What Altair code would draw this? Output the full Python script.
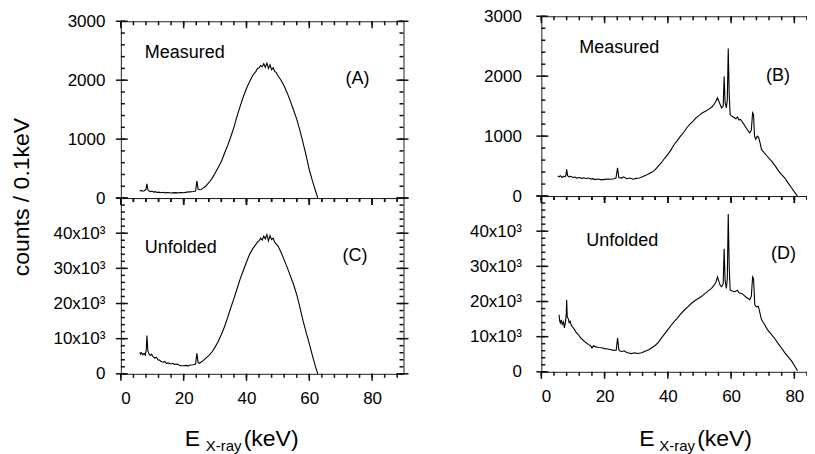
import altair as alt
import pandas as pd

FONT = "Liberation Sans"

# ---------------- data ----------------
# (A) measured, left detector
a_x = [6.0, 6.5, 7.0, 7.5, 8.0, 8.3, 8.6, 9.0, 9.5, 10, 10.5, 11, 11.5, 12, 13, 13.5, 14, 15, 16, 17, 18, 19, 20,
       21, 22, 23, 23.8, 24.2, 24.6, 25, 25.5, 26, 27, 28, 29, 30, 31, 32, 33, 34, 35, 36, 37, 38, 39, 40, 41, 42,
       43, 43.5, 44, 44.5, 45, 45.5, 46, 46.5, 47, 47.5, 48, 48.5, 49, 49.5, 50, 51, 52, 53, 54, 55, 56, 57, 58,
       59, 60, 61, 62, 62.7]
a_y = [120, 130, 115, 125, 150, 240, 140, 120, 110, 115, 100, 108, 95, 100, 90, 98, 88, 95, 85, 92, 88, 95, 90,
       100, 105, 110, 120, 290, 150, 140, 145, 160, 200, 260, 330, 420, 520, 620, 760, 890, 1040, 1200, 1390, 1560,
       1720, 1860, 1980, 2080, 2150, 2200, 2210, 2250, 2230, 2280, 2220, 2290, 2200, 2260, 2180, 2210, 2150, 2130,
       2080, 2000, 1900, 1780, 1640, 1490, 1340, 1150, 940, 720, 480, 290, 120, 0]

# (C) unfolded, left detector
c_x = [6.0, 6.3, 6.6, 7.0, 7.4, 7.8, 8.1, 8.3, 8.6, 9.0, 9.4, 9.8, 10.3, 10.8, 11.3, 11.8, 12.3, 12.8, 13.5, 14,
       14.5, 15, 16, 16.5, 17, 18, 18.5, 19, 20, 21, 21.5, 22, 23, 23.8, 24.2, 24.6, 25, 26, 27, 28, 29, 30, 31,
       32, 33, 34, 35, 36, 37, 38, 39, 40, 41, 42, 43, 43.5, 44, 44.5, 45, 45.5, 46, 46.5, 47, 47.5, 48, 48.5,
       49, 50, 51, 52, 53, 54, 55, 56, 57, 58, 59, 60, 61, 62, 62.7]
c_y = [6100, 5600, 6000, 5400, 5800, 5300, 7000, 10900, 6500, 5600, 5200, 5600, 4800, 4500, 4700, 4000, 3900,
       3500, 3300, 3500, 3000, 3100, 2800, 3000, 2700, 2800, 2500, 2300, 2300, 2400, 2200, 2500, 2600, 2800, 5800,
       3200, 3000, 3600, 4400, 5200, 6200, 7600, 9200, 11200, 13400, 16000, 18800, 21400, 24200, 27000, 29400,
       31800, 34000, 35600, 36800, 37500, 37800, 38600, 38000, 39200, 38400, 39600, 37800, 39300, 38200, 38600,
       37400, 36400, 34600, 32400, 30200, 27800, 25400, 22500, 19000, 15100, 11800, 8600, 5200, 2000, 0]

# (B) measured, right detector
b_x = [5.2, 5.6, 6.0, 6.5, 7.0, 7.5, 7.8, 8.0, 8.3, 8.8, 9.3, 10, 10.6, 11.2, 12, 12.8, 13.5, 14.2, 14.8, 15.5,
       16.3, 17, 18, 19, 20, 21, 22, 23, 23.6, 24.1, 24.5, 25.4, 26, 27, 28, 29, 30, 31, 32, 33, 34, 35, 36, 37,
       38, 39, 40, 41, 42, 43, 44, 45, 46, 47, 48, 49, 50, 51, 52, 53, 54, 55, 55.7, 56, 56.6, 57, 57.5, 57.8,
       58.1, 58.5, 58.8, 59.1, 59.4, 59.7, 60.3, 61, 61.5, 62, 62.5, 63, 63.5, 64, 64.5, 65, 65.5, 65.9, 66.4,
       66.8, 67.1, 67.4, 67.8, 68.3, 68.7, 69.2, 69.6, 70.5, 71.5, 72.8, 74, 75, 75.9, 77, 78, 79.1, 80, 81]
b_y = [333, 320, 340, 310, 330, 320, 350, 445, 340, 320, 330, 310, 317, 300, 310, 295, 305, 290, 305, 285, 290,
       275, 285, 270, 278, 285, 280, 290, 300, 472, 310, 300, 320, 290, 300, 280, 295, 300, 320, 345, 372, 400,
       440, 500, 560, 630, 695, 770, 860, 925, 1000, 1060, 1140, 1200, 1250, 1310, 1350, 1390, 1420, 1450, 1490,
       1560, 1640, 1600, 1520, 1470, 1500, 2000, 1560, 1470, 1600, 2460, 1700, 1360, 1330, 1310, 1290, 1320, 1270,
       1280, 1240, 1200, 1160, 1120, 1080, 1055, 1100, 1390, 1360, 1000, 950, 1000, 980, 880, 778, 720, 660, 583,
       500, 420, 362, 300, 220, 139, 70, 0]

# (D) unfolded, right detector
d_x = [5.6, 5.8, 6.0, 6.3, 6.6, 7.0, 7.3, 7.6, 7.9, 8.0, 8.2, 8.5, 8.8, 9.1, 9.5, 10, 10.5, 11, 11.7, 12.3, 13,
       13.7, 14.3, 14.8, 15.5, 16, 16.5, 17.2, 18, 19.1, 20, 21, 22, 23, 23.7, 24.1, 24.5, 24.9, 25.5, 26.2, 27,
       28, 28.5, 29.5, 30.5, 31.7, 33, 34, 34.9, 36, 37, 38, 39, 40, 41.2, 42, 43, 44.3, 45.5, 46.5, 47.5, 48.5,
       49.5, 50.6, 51.5, 52.5, 53.8, 54.5, 55.2, 55.7, 56.2, 56.6, 57, 57.5, 57.8, 58.1, 58.5, 58.8, 59.1, 59.4,
       59.7, 60.3, 61.2, 62, 62.5, 63.3, 64, 64.8, 65.5, 65.9, 66.4, 66.8, 67.1, 67.5, 68, 68.6, 69, 69.6, 70.5,
       71.5, 72.8, 74, 75, 75.9, 77, 78, 79.1, 80, 81]
d_y = [16250, 14500, 13900, 14800, 13500, 14200, 12500, 14000, 16500, 20480, 15500, 15200, 14000, 14400, 13200,
       12600, 12000, 11200, 10600, 9800, 9200, 8600, 8200, 7800, 7500, 6800, 7400, 7100, 6900, 6850, 6600, 6500,
       6300, 6100, 6200, 9650, 6300, 5900, 5800, 6000, 5500, 5300, 5170, 5400, 5200, 5450, 5900, 6300, 6850, 7500,
       8400, 9650, 10800, 12000, 13400, 14300, 15300, 16700, 17800, 18600, 19500, 20200, 20800, 21400, 22100,
       22800, 23750, 24500, 25500, 27000, 25500, 24500, 24200, 25000, 35000, 26000, 23750, 26500, 44870, 30000,
       23300, 23000, 22800, 23200, 22500, 22300, 21800, 21200, 20800, 20500, 21500, 27000, 26500, 19070, 18500,
       18600, 17200, 14850, 13600, 12000, 10600, 9200, 7900, 6850, 5400, 4300, 3100, 1800, 280]

# tick positions (data units)
x_major = [0, 20, 40, 60, 80]
x_minor = [0, 4, 8, 12, 16, 20, 24, 28, 32, 36, 40, 44, 48, 52, 56, 60, 64, 68, 72, 76, 80, 84, 88]
y_major_small = [0, 1000, 2000, 3000]
y_minor_small = [0, 200, 400, 600, 800, 1000, 1200, 1400, 1600, 1800, 2000, 2200, 2400, 2600, 2800, 3000]
y_major_big = [0, 10000, 20000, 30000, 40000, 50000]
y_label_big = [0, 10000, 20000, 30000, 40000]
y_minor_big = [0, 2000, 4000, 6000, 8000, 10000, 12000, 14000, 16000, 18000, 20000, 22000, 24000, 26000, 28000,
               30000, 32000, 34000, 36000, 38000, 40000, 42000, 44000, 46000, 48000, 50000]

X_MAX = 90


def txt(s, x, y, size=18, angle=0, align="left", baseline="alphabetic"):
    return alt.Chart(pd.DataFrame({"k": [0]})).mark_text(
        text=s, font=FONT, fontSize=size, color="black", align=align, baseline=baseline, angle=angle
    ).encode(x=alt.value(x), y=alt.value(y))


def tick_table(ymax, ymaj, ymin, width, height):
    """Short frame-tick segments; tick lengths are given in px and converted to data units."""
    kx = X_MAX / width
    ky = ymax / height
    rows = []
    g = 0

    def seg(x0, y0, x1, y1):
        nonlocal g
        rows.append({"x": x0, "y": y0, "g": g})
        rows.append({"x": x1, "y": y1, "g": g})
        g += 1

    for v in x_minor:
        seg(v, 0, v, -4 * ky)
        seg(v, ymax, v, ymax - 4 * ky)
    for v in x_major:
        seg(v, 0, v, -7 * ky)
        seg(v, ymax, v, ymax - 7 * ky)
    for v in ymin:
        seg(0, v, 4 * kx, v)
        seg(X_MAX, v, X_MAX - 4 * kx, v)
    for v in ymaj:
        seg(-5 * kx, v, 7 * kx, v)
        seg(X_MAX - 7 * kx, v, X_MAX + 5 * kx, v)
    return pd.DataFrame(rows)


def panel(xs, ys, ymax, ymaj, ylabvals, ymin, big, xlabels, ylabpad, width, height, extras):
    df = pd.DataFrame({"x": xs, "y": ys})
    xsc = alt.Scale(domain=[0, X_MAX], nice=False)
    ysc = alt.Scale(domain=[0, ymax], nice=False)

    common = dict(domain=False, grid=False, ticks=False, tickSize=0, title=None,
                  labelFont=FONT, labelFontSize=17, labelColor="black")
    if xlabels:
        xaxis = alt.Axis(orient="bottom", values=x_major, labelPadding=17, format="d", **common)
    else:
        xaxis = None
    if big:
        yaxis = alt.Axis(orient="left", values=ylabvals, labelPadding=ylabpad,
                         labelExpr="datum.value == 0 ? '0' : (datum.value / 1000) + 'x10\u00b3'", **common)
    else:
        yaxis = alt.Axis(orient="left", values=ylabvals, labelPadding=ylabpad, format="d", **common)

    spectrum = alt.Chart(df).mark_line(color="black", strokeWidth=1.1).encode(
        x=alt.X("x:Q", scale=xsc, axis=xaxis), y=alt.Y("y:Q", scale=ysc, axis=yaxis))

    ticks = alt.Chart(tick_table(ymax, ymaj, ymin, width, height)).mark_line(
        color="#111111", strokeWidth=1.5).encode(
        x=alt.X("x:Q", scale=xsc, axis=xaxis), y=alt.Y("y:Q", scale=ysc, axis=yaxis),
        detail="g:N", order="x:Q")

    return alt.layer(spectrum, ticks, *extras).properties(width=width, height=height)


# empty strip above panel (A): panel (B) sits a few pixels higher than panel (A)
top_gap = alt.Chart(pd.DataFrame({"k": [0]})).mark_point(opacity=0, size=1).encode(
    x=alt.value(0), y=alt.value(2)).properties(width=283, height=5, view=alt.ViewBackground(stroke="transparent"))

pA = panel(a_x, a_y, 3000, y_major_small, y_major_small, y_minor_small, False, False, 16, 283, 177,
           [txt("Measured", 24, 37), txt("(A)", 225, 63)])
pC = panel(c_x, c_y, 50000, y_major_big, y_label_big, y_minor_big, True, True, 16, 283, 176,
           [txt("Unfolded", 24, 55), txt("(C)", 222, 63),
            txt("E", 64, 248, size=23), txt("X-ray", 85, 253, size=15), txt("(keV)", 123, 248, size=23),
            txt("counts / 0.1keV", -99, -1, size=23, angle=270, align="center", baseline="middle")])
pB = panel(b_x, b_y, 3000, y_major_small, y_major_small, y_minor_small, False, False, 20, 285, 180,
           [txt("Measured", 38, 37), txt("(B)", 225, 65)])
pD = panel(d_x, d_y, 50000, y_major_big, y_label_big, y_minor_big, True, True, 20, 285, 176,
           [txt("Unfolded", 45, 50), txt("(D)", 230, 63),
            txt("E", 98, 250, size=23), txt("X-ray", 118, 255, size=15), txt("(keV)", 156, 250, size=23)])

left = alt.vconcat(top_gap, pA, pC, spacing=0, bounds="flush")
right = alt.vconcat(pB, pD, spacing=0, bounds="flush")

chart = alt.hconcat(left, right, spacing=56).properties(
    padding={"left": 2, "top": -2, "right": -28, "bottom": 0}
).configure(font=FONT).configure_view(stroke="#222222", strokeWidth=1)

chart.save("out.html", embed_options={"renderer": "svg", "actions": False})
